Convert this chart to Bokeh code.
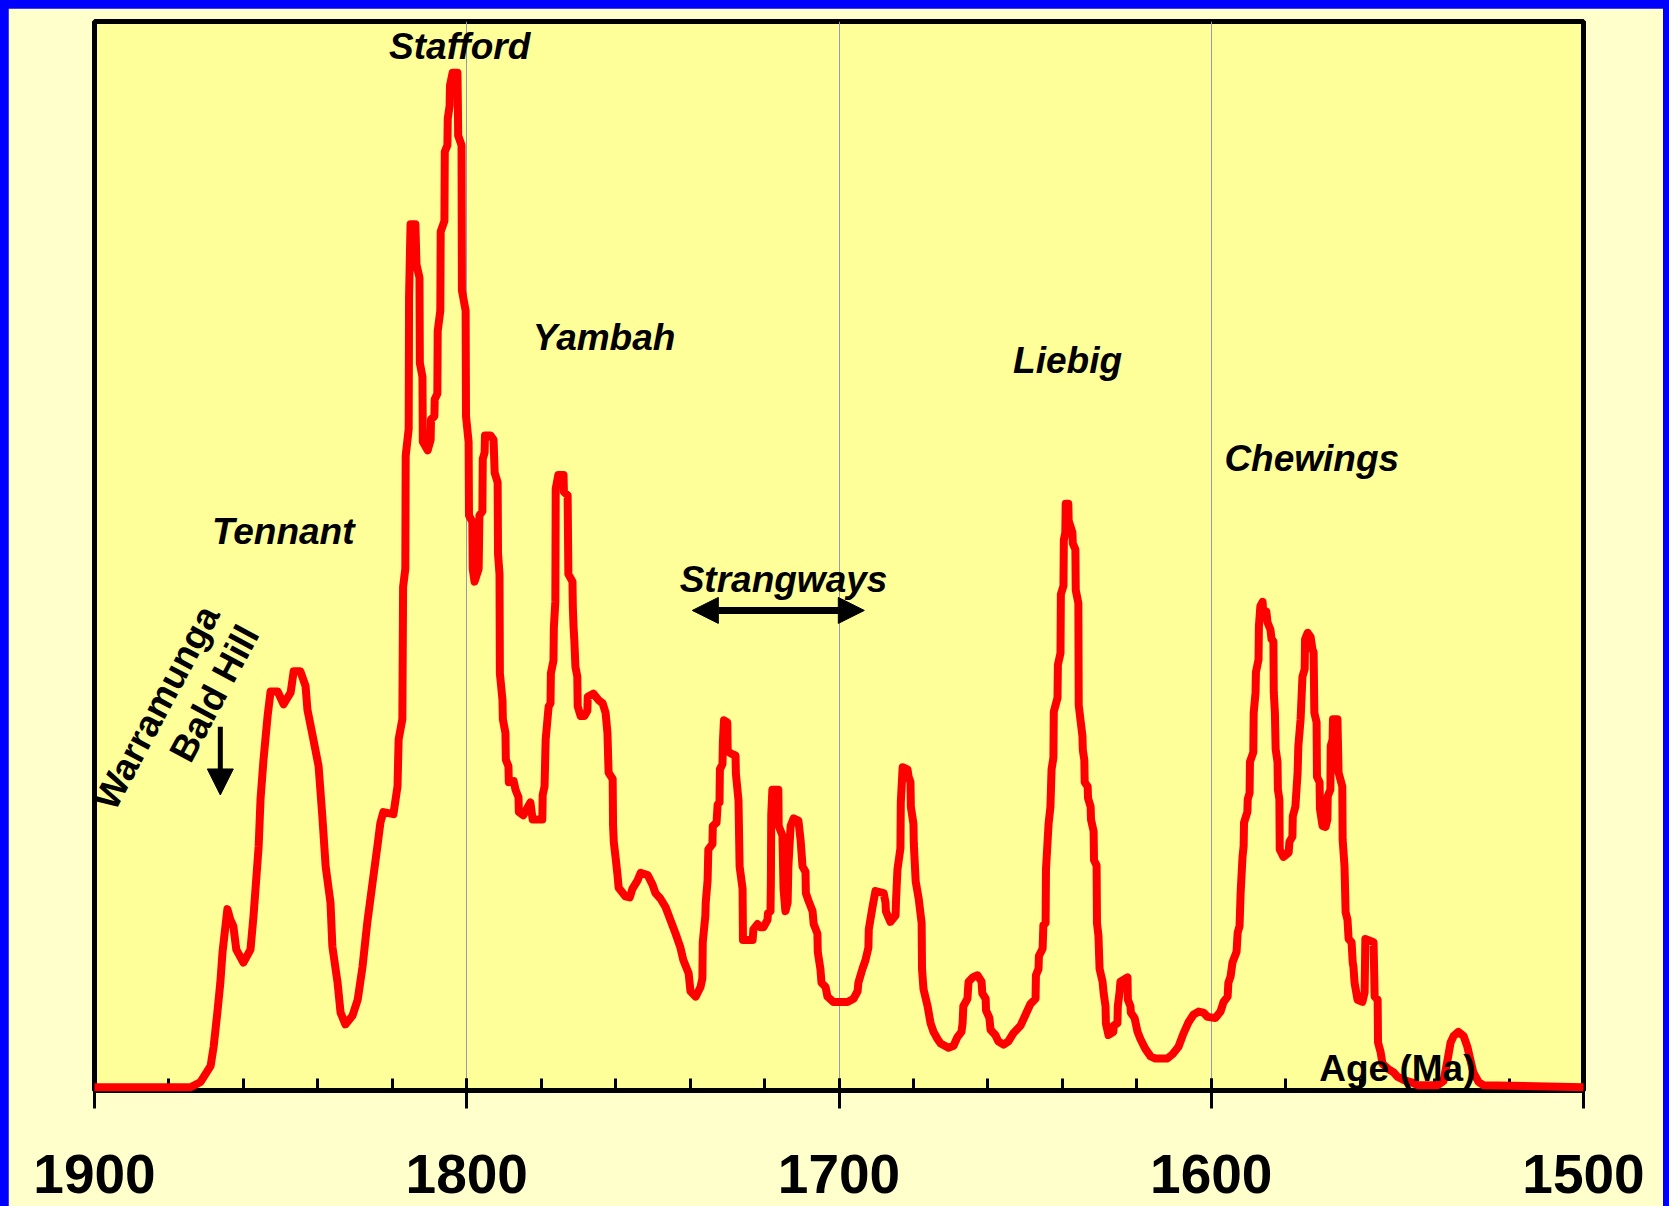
from bokeh.plotting import figure
from bokeh.models import Range1d, Arrow, NormalHead, GlobalInlineStyleSheet, SingleIntervalTicker
from bokeh.core.properties import value
from bokeh.embed import file_html
from bokeh.resources import INLINE

# ---- probability curve: (age Ma, relative probability) ----
seg_tennant = [
    (1900, 0), (1874.2, 0), (1871.5, 0.5), (1868.8, 2.0), (1868.0, 3.8), (1867.0, 7.0),
    (1866.2, 9.8), (1865.6, 12.7), (1864.3, 16.7), (1863.5, 15.7), (1862.7, 15.1),
    (1861.9, 12.9), (1860.0, 11.7), (1858.1, 12.9), (1857.3, 16.0), (1856.7, 18.8),
    (1855.9, 22.6), (1855.4, 27.0), (1854.6, 30.7), (1853.5, 34.8), (1852.7, 37.1),
    (1850.8, 37.1), (1849.2, 35.9), (1847.3, 37.0), (1846.5, 39.0), (1844.7, 39.0),
    (1843.3, 37.6), (1842.8, 35.4), (1841.2, 32.6), (1839.8, 30.1), (1838.8, 25.4),
    (1837.9, 20.7), (1836.6, 17.3), (1836.1, 13.2), (1834.7, 9.8), (1833.9, 7.0),
    (1832.6, 5.9), (1830.7, 6.7), (1829.3, 8.2), (1828.0, 11.3), (1826.7, 15.5),
    (1825.3, 19.2), (1824.0, 22.6), (1823.2, 24.8), (1822.4, 25.8), (1819.7, 25.6),
    (1818.6, 28.2), (1818.3, 32.6), (1817.3, 34.5),
]
seg_stafford = [
    (1817.1, 46.9), (1816.5, 48.6), (1816.4, 59.2), (1815.6, 61.7), (1815.5, 74.0),
    (1815.1, 80.9), (1813.8, 80.9), (1813.5, 77.1), (1812.7, 75.9), (1812.6, 67.9),
    (1811.9, 66.6), (1811.8, 60.5), (1810.5, 59.7), (1809.7, 60.7), (1809.6, 62.6),
    (1808.7, 62.9), (1808.6, 64.5), (1807.9, 65.0), (1807.8, 70.9), (1807.1, 72.8),
    (1807.0, 80.2), (1806.0, 81.2), (1805.9, 87.7), (1805.2, 88.3), (1805.1, 90.8),
    (1804.6, 92.0), (1804.5, 93.9), (1803.8, 95.1), (1802.5, 95.1), (1802.4, 92.6),
    (1802.3, 89.2), (1801.4, 88.3), (1801.3, 74.7), (1800.3, 72.8), (1800.2, 62.9),
    (1799.5, 60.5), (1799.4, 53.6), (1798.5, 53.0), (1798.4, 48.6), (1797.9, 47.4),
    (1796.8, 48.6), (1796.6, 53.6), (1795.8, 54.0), (1795.7, 58.9), (1795.2, 59.5),
    (1795.1, 61.1), (1793.6, 61.1), (1792.8, 60.7), (1792.5, 57.6), (1791.7, 56.7),
    (1791.6, 50.0), (1791.2, 48.1), (1791.1, 38.8), (1790.4, 36.3), (1790.3, 34.5),
    (1789.6, 33.2), (1789.5, 30.7), (1788.8, 30.1), (1788.7, 28.6), (1787.4, 28.7),
    (1786.9, 27.9), (1786.1, 27.2), (1786.0, 25.8), (1784.8, 25.5), (1782.9, 26.7),
    (1782.3, 25.1), (1779.7, 25.1), (1779.6, 27.4), (1779.1, 28.2),
]
seg_yambah = [
    (1778.8, 32.6), (1778.0, 35.7), (1777.5, 36.0), (1777.4, 38.8), (1776.7, 40.0),
    (1776.6, 43.1), (1776.2, 45.5), (1776.1, 56.1), (1775.4, 57.4), (1774.0, 57.4),
    (1773.9, 55.8), (1772.9, 55.5), (1772.7, 48.1), (1771.6, 47.4), (1771.5, 45.0),
    (1771.3, 43.1), (1771.1, 41.9), (1770.8, 39.4), (1770.3, 38.5), (1770.2, 35.7),
    (1769.4, 34.8), (1768.4, 34.8), (1767.6, 35.3), (1767.5, 36.6), (1766.0, 36.9),
    (1764.6, 36.3), (1763.5, 36.0), (1762.7, 35.1), (1762.2, 33.2), (1761.9, 29.5),
    (1760.8, 28.9), (1760.7, 24.6), (1760.5, 23.0), (1760.0, 21.5), (1759.5, 19.9),
    (1759.2, 18.7), (1757.4, 17.9), (1756.2, 17.8), (1755.5, 18.6), (1754.1, 19.4),
    (1753.3, 20.1), (1751.4, 19.9), (1750.1, 19.0), (1749.3, 18.2), (1748.0, 17.7),
    (1746.6, 16.9), (1745.3, 15.7), (1743.9, 14.4), (1742.6, 13.1), (1741.8, 11.9),
    (1740.4, 10.7), (1739.9, 9.0), (1738.5, 8.5), (1737.2, 9.4), (1736.7, 10.2),
]
seg_strangways = [
    (1736.6, 13.6), (1735.9, 16.1), (1735.8, 17.3), (1735.3, 19.4), (1735.1, 22.3),
    (1734.0, 22.8), (1733.9, 24.5), (1732.9, 24.8), (1732.6, 26.5), (1732.1, 26.7),
    (1732.0, 29.8), (1731.3, 30.3), (1731.2, 32.3), (1730.9, 34.4), (1730.0, 34.2),
    (1729.9, 31.5), (1729.1, 31.3), (1727.8, 31.1), (1727.7, 29.4), (1727.0, 26.9),
    (1726.7, 20.7), (1725.9, 18.6), (1725.8, 13.8), (1723.2, 13.8), (1723.0, 14.8),
    (1721.9, 15.3), (1721.1, 15.0), (1720.3, 15.0), (1719.2, 15.7), (1719.1, 16.3),
    (1718.4, 16.5), (1718.3, 19.4), (1718.2, 25.5), (1717.9, 27.9), (1716.3, 27.9),
    (1716.2, 24.5), (1715.2, 23.6), (1714.9, 18.6), (1714.4, 16.5), (1713.8, 17.3),
    (1713.6, 20.7), (1713.0, 24.5), (1712.2, 25.2), (1710.9, 25.0), (1710.3, 23.1),
    (1709.8, 20.7), (1709.0, 20.2), (1708.9, 18.2), (1708.2, 17.5), (1707.1, 16.5),
    (1706.8, 15.3), (1705.8, 14.4), (1705.7, 12.7), (1705.0, 11.1), (1704.7, 9.8),
    (1703.6, 9.4), (1703.1, 8.5), (1701.5, 8.0), (1697.7, 8.0), (1696.1, 8.3),
    (1695.0, 9.0), (1694.8, 9.8), (1693.7, 11.1), (1692.9, 11.9), (1692.1, 13.1),
    (1692.0, 14.8), (1691.0, 16.9), (1690.2, 18.4), (1688.0, 18.2), (1687.5, 17.3),
    (1687.4, 16.5), (1686.2, 15.5), (1684.8, 16.1), (1684.7, 17.3), (1684.3, 20.4),
    (1683.5, 22.4), (1683.4, 26.7), (1682.9, 30.0), (1681.6, 29.8), (1681.3, 29.1),
    (1680.8, 28.6), (1680.7, 26.3), (1680.0, 24.7), (1679.9, 22.8), (1679.4, 19.3),
    (1678.6, 17.7), (1677.8, 15.4), (1677.7, 11.1), (1677.3, 9.2), (1676.2, 7.6),
    (1675.4, 6.0), (1674.6, 5.2), (1673.5, 4.5), (1672.7, 4.1), (1670.6, 3.7),
    (1669.2, 3.9), (1668.2, 4.7), (1667.1, 5.2), (1666.8, 6.0), (1666.6, 7.6),
    (1665.5, 8.3), (1665.2, 9.9), (1664.1, 10.3), (1662.8, 10.5), (1661.7, 9.9),
    (1661.5, 8.8), (1660.6, 8.3), (1660.5, 7.2), (1659.6, 6.5), (1659.3, 5.4),
    (1658.0, 4.9), (1657.2, 4.3), (1655.8, 4.0), (1654.5, 4.3), (1653.1, 5.1),
    (1651.2, 5.8), (1649.9, 6.8), (1648.6, 7.8), (1647.2, 8.3),
]
seg_liebig = [
    (1647.1, 10.5), (1646.4, 11.1), (1646.3, 12.3), (1645.3, 13.0), (1645.1, 15.2),
    (1644.5, 15.4), (1644.4, 20.4), (1643.7, 24.7), (1643.2, 26.3), (1642.9, 29.8),
    (1642.4, 30.9), (1642.3, 35.2), (1641.3, 36.5), (1641.2, 39.6), (1640.5, 40.7),
    (1640.4, 46.2), (1639.7, 47.0), (1639.6, 51.3), (1639.2, 52.0), (1639.1, 54.7),
    (1638.4, 54.7), (1638.3, 53.1), (1637.3, 52.0), (1637.2, 51.0), (1636.5, 50.4),
    (1636.4, 46.6), (1635.7, 45.4), (1635.6, 35.8), (1634.6, 32.9), (1634.5, 31.6),
    (1634.1, 30.7), (1634.0, 28.6), (1633.2, 28.2), (1633.1, 27.1), (1632.4, 26.3),
    (1632.3, 25.1), (1631.6, 24.0), (1631.5, 21.3), (1630.8, 20.8), (1630.7, 15.4),
    (1630.3, 14.2), (1630.0, 11.1), (1629.2, 9.9), (1628.9, 8.8), (1628.4, 7.6),
    (1628.3, 6.0), (1627.6, 4.9), (1626.3, 5.2), (1626.2, 5.8), (1625.2, 6.0),
    (1625.1, 7.6), (1624.6, 9.0), (1624.4, 9.9), (1622.5, 10.3), (1622.4, 8.2),
    (1621.7, 7.6), (1621.6, 7.0), (1620.6, 6.5), (1619.8, 5.2), (1619.0, 4.5),
    (1617.7, 3.6), (1616.3, 2.9), (1615.0, 2.7), (1611.8, 2.7), (1610.4, 3.1),
    (1608.8, 3.8), (1607.5, 5.0), (1606.1, 6.1), (1604.8, 6.8), (1603.4, 7.1),
    (1602.1, 7.0), (1601.0, 6.6), (1598.9, 6.5), (1597.5, 7.1), (1596.7, 8.0),
    (1595.6, 8.5), (1595.4, 9.8), (1594.8, 10.4), (1594.3, 11.7),
]
seg_chewings = [
    (1593.2, 12.7), (1592.9, 14.5), (1592.4, 15.1), (1592.1, 18.3), (1591.6, 21.6),
    (1591.3, 22.6), (1591.2, 24.8), (1590.3, 25.8), (1590.2, 27.0), (1589.7, 27.6),
    (1589.6, 30.5), (1588.7, 31.4), (1588.6, 35.1), (1588.1, 37.0), (1588.0, 38.9),
    (1587.3, 40.1), (1587.2, 43.2), (1586.8, 45.1), (1586.2, 45.5), (1586.0, 44.1),
    (1585.2, 44.6), (1584.9, 43.6), (1584.1, 42.9), (1583.8, 42.0), (1583.3, 41.8),
    (1583.2, 37.0), (1582.9, 35.1), (1582.7, 31.7), (1582.2, 30.5), (1582.1, 27.9),
    (1581.7, 27.0), (1581.6, 22.3), (1580.6, 21.6), (1579.2, 22.0), (1579.0, 23.0),
    (1578.2, 23.5), (1578.1, 25.4), (1577.4, 26.3), (1576.8, 29.5), (1576.6, 32.0),
    (1576.0, 34.5), (1575.5, 38.5), (1574.9, 39.2), (1574.8, 42.0), (1574.1, 42.6),
    (1573.3, 42.2), (1572.8, 41.0), (1572.5, 40.8), (1572.3, 35.1), (1571.7, 34.2),
    (1571.6, 29.1), (1570.9, 28.6), (1570.8, 26.1), (1570.1, 24.5), (1569.3, 24.4),
    (1568.8, 25.1), (1568.7, 27.3), (1568.0, 27.9), (1567.9, 32.0), (1567.4, 32.6),
    (1567.3, 34.5), (1566.1, 34.5), (1565.8, 29.5), (1564.8, 28.2), (1564.7, 23.2),
    (1564.2, 20.7), (1563.9, 16.4), (1563.4, 15.7), (1563.1, 13.9), (1562.3, 13.6),
    (1562.0, 11.7), (1561.8, 11.3), (1561.5, 9.8), (1560.7, 8.2), (1559.4, 8.0),
    (1558.8, 8.9), (1558.6, 13.9), (1556.4, 13.6), (1556.1, 8.5), (1555.3, 8.2),
    (1555.2, 4.2), (1554.5, 3.3), (1554.0, 2.2), (1552.4, 1.7), (1551.0, 1.4),
    (1550.0, 1.0), (1548.4, 0.7), (1546.5, 0.5), (1544.6, 0.2), (1539.2, 0.2),
    (1537.6, 0.6), (1536.5, 2.6), (1535.7, 4.2), (1534.9, 4.8), (1533.6, 5.2),
    (1532.2, 4.8), (1531.2, 3.8), (1530.4, 2.6), (1529.6, 1.4), (1528.2, 0.5),
    (1526.9, 0.2), (1500, 0),
]

# ---- event labels ----
label_names = ["Stafford", "Tennant", "Yambah", "Strangways", "Liebig", "Chewings"]
label_ages = [1801.9, 1849.3, 1763.1, 1714.9, 1638.6, 1573.0]
label_vals = [97.6, 52.1, 70.3, 47.6, 68.1, 58.9]

rot_names = ["Warramunga", "Bald Hill"]
rot_ages = [1883.3, 1867.8]
rot_vals = [35.6, 36.9]

axis_title = "Age (Ma)"
axis_title_age, axis_title_val = 1550.0, 1.8

bald_hill_arrow = dict(age=1866.2, top=33.8, tip=27.4)
strangways_arrow = dict(old=1739.4, young=1693.2, level=44.7)

tick_interval = 100

# ---- assemble ----
curve = seg_tennant + seg_stafford + seg_yambah + seg_strangways + seg_liebig + seg_chewings
ages = [a for a, _ in curve]
probs = [v for _, v in curve]

p = figure(width=1655, height=1198, frame_width=1489, frame_height=1069,
           output_backend="svg", toolbar_location=None,
           x_range=Range1d(1900, 1500), y_range=Range1d(-0.3, 99.9),
           min_border_left=86, min_border_right=80, min_border_top=13, min_border_bottom=116)
p.stylesheets = [GlobalInlineStyleSheet(css=(
    "html, body { background-color: #0000FF; overflow: hidden; margin: 0 !important; }"
    " body { padding: 8px 0 0 8px !important; box-sizing: border-box; }"))]

p.background_fill_color = "#FFFF99"
p.border_fill_color = "#FFFFCC"
p.outline_line_color = "black"
p.outline_line_width = 5

p.yaxis.visible = False
p.ygrid.visible = False

p.xaxis.ticker = SingleIntervalTicker(interval=tick_interval, num_minor_ticks=5)
p.xgrid.grid_line_color = "#9898B0"
p.xgrid.grid_line_width = 1

ax = p.xaxis[0]
ax.axis_line_color = "black"
ax.axis_line_width = 5
ax.major_tick_line_color = "black"
ax.major_tick_line_width = 3
ax.major_tick_in = 12
ax.major_tick_out = 18
ax.minor_tick_line_color = "black"
ax.minor_tick_line_width = 3
ax.minor_tick_in = 12
ax.minor_tick_out = 0
ax.major_label_text_font = "Liberation Sans"
ax.major_label_text_font_size = "55px"
ax.major_label_text_font_style = "bold"
ax.major_label_text_color = "black"
ax.major_label_standoff = 46

p.line(ages, probs, line_color="#FF0000", line_width=8, line_join="round", level="overlay")

p.text(x=label_ages, y=label_vals, text=label_names,
       text_font=value("Liberation Sans"), text_font_size="37px", text_font_style="bold italic",
       text_align="center", text_baseline="alphabetic", text_color="black", level="overlay")

p.text(x=rot_ages, y=rot_vals, text=rot_names, angle=1.08,
       text_font=value("Liberation Sans"), text_font_size="37px", text_font_style="bold",
       text_align="center", text_baseline="middle", text_color="black", level="overlay")

p.text(x=[axis_title_age], y=[axis_title_val], text=[axis_title],
       text_font=value("Liberation Sans"), text_font_size="37px", text_font_style="bold",
       text_align="center", text_baseline="alphabetic", text_color="black", level="overlay")

p.add_layout(Arrow(x_start=bald_hill_arrow["age"], y_start=bald_hill_arrow["top"],
                   x_end=bald_hill_arrow["age"], y_end=bald_hill_arrow["tip"],
                   line_color="black", line_width=5,
                   end=NormalHead(size=26, fill_color="black", line_color="black", line_width=1)))

p.add_layout(Arrow(x_start=strangways_arrow["old"], y_start=strangways_arrow["level"],
                   x_end=strangways_arrow["young"], y_end=strangways_arrow["level"],
                   line_color="black", line_width=7,
                   start=NormalHead(size=26, fill_color="black", line_color="black", line_width=1),
                   end=NormalHead(size=26, fill_color="black", line_color="black", line_width=1)))

open("out.html", "w").write(file_html(p, INLINE))
